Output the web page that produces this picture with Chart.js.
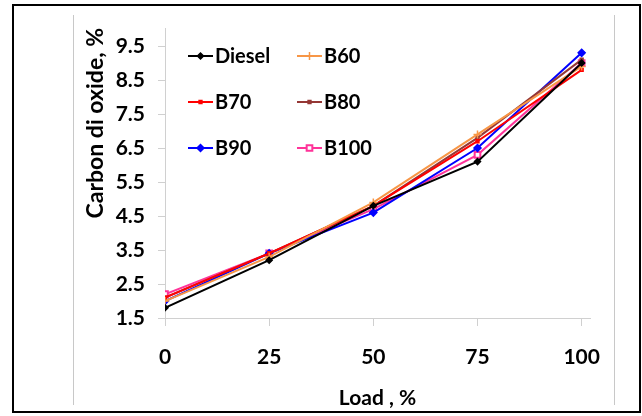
<!DOCTYPE html>
<html>
<head>
<meta charset="utf-8">
<script src="https://cdn.jsdelivr.net/npm/chart.js@4.4.0/dist/chart.umd.min.js"></script>
<style>
    body { margin: 0; background: #fff; }
    #contenedor { width: 642px; height: 416px; }
</style>
</head>
<body>
<div id="contenedor">
    <canvas id="co2Chart" width="642" height="416"></canvas>
</div>
<script>
// datos
var cargas = [0, 25, 50, 75, 100];
var ticksY = [1.5, 2.5, 3.5, 4.5, 5.5, 6.5, 7.5, 8.5, 9.5];
var nombres = ["Diesel", "B60", "B70", "B80", "B90", "B100"];
var diesel = [1.8, 3.2, 4.8, 6.1, 9.0];
var b60 = [2.0, 3.3, 4.9, 6.9, 8.9];
var b70 = [2.1, 3.4, 4.8, 6.7, 8.8];
var b80 = [2.1, 3.4, 4.8, 6.8, 9.1];
var b90 = [2.0, 3.4, 4.6, 6.5, 9.3];
var b100 = [2.2, 3.4, 4.7, 6.3, 9.0];

var fuente = "Lato, 'DejaVu Sans Condensed', sans-serif";

function puntos(valores) {
    return cargas.map(function (c, i) { return { x: c, y: valores[i] }; });
}

function serie(nombre, valores, color, estilo, radio, relleno) {
    return {
        label: nombre,
        data: puntos(valores),
        borderColor: color,
        backgroundColor: relleno || color,
        borderWidth: 2,
        pointStyle: estilo,
        pointRadius: radio,
        pointBorderColor: color,
        pointBackgroundColor: relleno || color,
        pointBorderWidth: relleno ? 2 : 1.5,
        tension: 0,
        fill: false
    };
}

// marco negro y lineas grises del fondo
var marco = {
    id: 'marco',
    beforeDraw: function (chart) {
        var ctx = chart.ctx;
        ctx.save();
        ctx.strokeStyle = '#C8C8C8';
        ctx.lineWidth = 1;
        ctx.beginPath();
        ctx.moveTo(73.5, 15); ctx.lineTo(73.5, 405);
        ctx.moveTo(614.5, 15); ctx.lineTo(614.5, 405);
        ctx.stroke();
        ctx.strokeStyle = '#000';
        ctx.lineWidth = 2;
        ctx.strokeRect(13, 5, 627, 407);
        ctx.restore();
    }
};

// leyenda en dos columnas dentro del area
var leyenda = {
    id: 'leyenda',
    afterDatasetsDraw: function (chart) {
        var ctx = chart.ctx;
        var colX = [188, 297];
        var filaY = [56, 102, 148];
        ctx.save();
        chart.data.datasets.forEach(function (ds, i) {
            var x = colX[i % 2];
            var y = filaY[Math.floor(i / 2)];
            ctx.strokeStyle = ds.borderColor;
            ctx.lineWidth = 2;
            ctx.beginPath();
            ctx.moveTo(x, y);
            ctx.lineTo(x + 25, y);
            ctx.stroke();
            ctx.fillStyle = ds.pointBackgroundColor;
            ctx.strokeStyle = ds.pointBorderColor;
            ctx.lineWidth = ds.pointBorderWidth;
            Chart.helpers.drawPoint(ctx, {
                pointStyle: ds.pointStyle,
                radius: ds.pointRadius,
                rotation: 0,
                borderWidth: ds.pointBorderWidth
            }, x + 12.5, y);
            ctx.fillStyle = '#000';
            ctx.font = 'bold 20px ' + fuente;
            ctx.textBaseline = 'middle';
            ctx.textAlign = 'left';
            ctx.fillText(ds.label, x + 27, y + 1);
        });
        ctx.restore();
    }
};

var ctxCO2 = document.getElementById('co2Chart').getContext('2d');
var co2Chart = new Chart(ctxCO2, {
    type: 'line',
    data: {
        datasets: [
            serie(nombres[0], diesel, '#000000', 'rectRot', 3),
            serie(nombres[1], b60, '#F79646', 'cross', 4),
            serie(nombres[2], b70, '#FF0000', 'rect', 2),
            serie(nombres[3], b80, '#953735', 'rect', 2),
            serie(nombres[4], b90, '#0000FF', 'rectRot', 3.5),
            serie(nombres[5], b100, '#FF3399', 'rect', 4, '#FFFFFF')
        ]
    },
    options: {
        responsive: false,
        animation: false,
        layout: { padding: { left: 72, right: 52, top: 28, bottom: 4 } },
        plugins: {
            legend: { display: false },
            tooltip: { enabled: false }
        },
        scales: {
            x: {
                type: 'linear',
                min: 0,
                max: 102,
                afterBuildTicks: function (scale) {
                    scale.ticks = cargas.map(function (v) { return { value: v }; });
                },
                afterFit: function (scale) { scale.height = 416 - 318 - 4; },
                grid: { drawOnChartArea: false, drawTicks: true, tickLength: 8, color: '#D0D0D0' },
                border: { display: true, color: '#D0D0D0', width: 1 },
                ticks: {
                    padding: 19,
                    color: '#000',
                    maxRotation: 0,
                    font: { family: fuente, size: 21, weight: 'bold' }
                },
                title: {
                    display: true,
                    text: 'Load , %',
                    color: '#000',
                    padding: { top: 0, bottom: 1 },
                    font: { family: fuente, size: 21, weight: 'bold' }
                }
            },
            y: {
                min: 1.5,
                max: 10.03,
                afterBuildTicks: function (scale) {
                    scale.ticks = ticksY.map(function (v) { return { value: v }; });
                },
                afterFit: function (scale) { scale.width = 165 - 72; },
                grid: { drawOnChartArea: false, drawTicks: true, tickLength: 7, color: '#D0D0D0' },
                border: { display: true, color: '#D0D0D0', width: 1 },
                ticks: {
                    padding: 13,
                    color: '#000',
                    font: { family: fuente, size: 21, weight: 'bold' },
                    callback: function (v) { return v.toFixed(1); }
                },
                title: {
                    display: true,
                    text: 'Carbon di oxide, %',
                    align: 'end',
                    color: '#000',
                    padding: { top: 10, bottom: 0 },
                    font: { family: fuente, size: 23, weight: 'bold' }
                }
            }
        }
    },
    plugins: [marco, leyenda]
});
</script>
</body>
</html>
